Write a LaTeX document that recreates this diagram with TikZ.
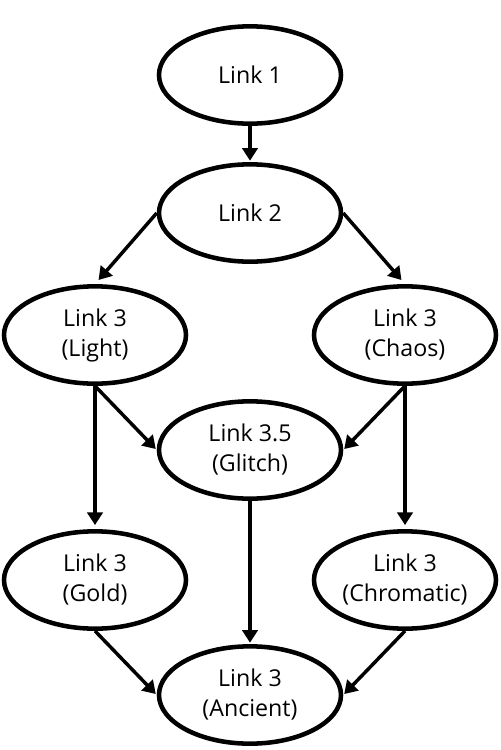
\documentclass[tikz,border=0pt]{standalone}
\usepackage{fontspec}
\setmainfont{Open Sans}
\usetikzlibrary{arrows.meta,shapes.geometric}
\begin{document}
\begin{tikzpicture}[x=0.75pt,y=-0.75pt,
  linkbox/.style={draw=black, line width=3.4pt, ellipse, minimum width=136.5pt, minimum height=73pt,
    inner sep=0pt, align=center, font=\fontsize{17.4}{22.5}\selectfont},
  conn/.style={line width=2.6pt, -{Triangle[length=9.5pt,width=11.5pt]}}]
\useasboundingbox (0,0) rectangle (500,750);
\node[linkbox] (l1) at (250,75) {Link 1};
\node[linkbox] (l2) at (250,213) {Link 2};
\node[linkbox] (light) at (95,335) {Link 3\\(Light)};
\node[linkbox] (chaos) at (405,335) {Link 3\\(Chaos)};
\node[linkbox] (glitch) at (250,450) {Link 3.5\\(Glitch)};
\node[linkbox] (gold) at (95,580) {Link 3\\(Gold)};
\node[linkbox] (chrom) at (405,580) {Link 3\\(Chromatic)};
\node[linkbox] (anc) at (250,695) {Link 3\\(Ancient)};
\draw[conn, shorten >=1pt] (l1.south) -- (l2.north);
\draw[conn, shorten >=4pt] (l2.west) -- (light.north);
\draw[conn, shorten >=4pt] (l2.east) -- (chaos.north);
\draw[conn, shorten >=3pt] (light.south) -- (gold.north);
\draw[conn, shorten >=3pt] (chaos.south) -- (chrom.north);
\draw[conn, shorten >=1pt] (light.south) -- (glitch.west);
\draw[conn, shorten >=1pt] (chaos.south) -- (glitch.east);
\draw[conn, shorten >=1pt] (glitch.south) -- (anc.north);
\draw[conn, shorten >=1pt] (gold.south) -- (anc.west);
\draw[conn, shorten >=1pt] (chrom.south) -- (anc.east);
\end{tikzpicture}
\end{document}
